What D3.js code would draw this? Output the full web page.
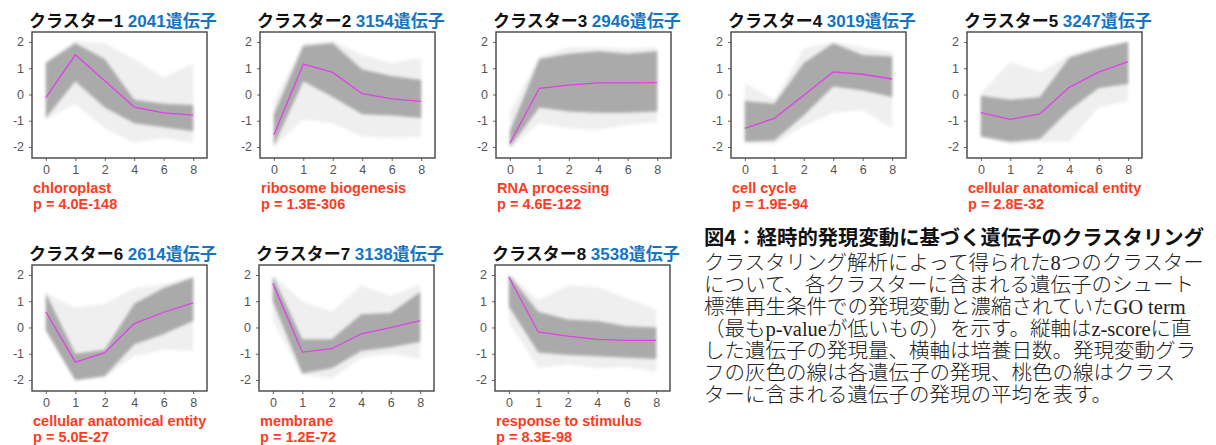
<!DOCTYPE html>
<html>
<head>
<meta charset="utf-8">
<script src="https://cdn.jsdelivr.net/npm/d3@7"></script>
<style>
  body { margin: 0; background: #fff; }
  svg { display: block; }
</style>
</head>
<body>
<script>
// culture days on x axis
var timePoints = ["0", "1", "2", "4", "6", "8"];
var yTicks = [-2, -1, 0, 1, 2];

var clusterNames = ["クラスター1", "クラスター2", "クラスター3", "クラスター4",
  "クラスター5", "クラスター6", "クラスター7", "クラスター8"];
var geneCounts = [2041, 3154, 2946, 3019, 3247, 2614, 3138, 3538];
var goTerms = ["chloroplast", "ribosome biogenesis", "RNA processing", "cell cycle",
  "cellular anatomical entity", "cellular anatomical entity", "membrane", "response to stimulus"];
var pValues = ["4.0E-148", "1.3E-306", "4.6E-122", "1.9E-94", "2.8E-32", "5.0E-27", "1.2E-72", "8.3E-98"];

// cluster mean (magenta line)
var meanExpr = [
  [-0.12, 1.51, 0.52, -0.48, -0.70, -0.79],
  [-1.53, 1.16, 0.84, 0.03, -0.17, -0.26],
  [-1.86, 0.23, 0.36, 0.44, 0.44, 0.45],
  [-1.29, -0.91, -0.03, 0.86, 0.77, 0.59],
  [-0.69, -0.95, -0.74, 0.27, 0.85, 1.25],
  [0.60, -1.32, -0.96, 0.15, 0.58, 0.94],
  [1.68, -0.94, -0.81, -0.24, -0.01, 0.26],
  [1.92, -0.17, -0.33, -0.45, -0.49, -0.49]
];

// dense part of the gene lines
var coreUpper = [
  [1.20, 1.95, 1.35, -0.20, -0.35, -0.40],
  [-0.75, 1.85, 1.95, 0.95, 0.70, 0.55],
  [-1.40, 1.35, 1.55, 1.65, 1.55, 1.65],
  [-0.25, -0.35, 1.20, 1.95, 1.50, 1.45],
  [-0.05, -0.20, -0.10, 1.40, 1.75, 2.00],
  [1.30, -1.00, -0.85, 0.90, 1.50, 1.90],
  [1.95, -0.45, -0.45, 0.50, 0.55, 1.35],
  [2.00, 0.60, 0.30, 0.25, 0.05, 0.00]
];
var coreLower = [
  [-0.90, 0.50, -0.50, -1.10, -1.25, -1.40],
  [-1.95, 0.50, -0.10, -0.75, -0.80, -0.90],
  [-2.00, -0.50, -0.65, -0.70, -0.70, -0.65],
  [-1.80, -1.75, -0.80, 0.30, 0.15, -0.10],
  [-1.60, -1.80, -1.70, -0.60, 0.25, 0.40],
  [-0.10, -2.00, -1.85, -0.65, -0.25, 0.25],
  [1.00, -1.75, -1.55, -0.90, -0.75, -0.55],
  [0.80, -0.95, -1.05, -1.10, -1.15, -1.20]
];
// faint outliers
var outerUpper = [
  [1.25, 2.05, 1.95, 1.35, 0.65, 1.20],
  [-0.30, 1.95, 2.05, 1.50, 1.20, 1.40],
  [-0.65, 1.45, 1.80, 1.80, 1.75, 1.80],
  [0.45, -0.20, 1.75, 2.00, 1.80, 1.60],
  [0.05, 1.25, 0.85, 1.50, 1.80, 2.05],
  [1.30, 0.75, 0.90, 1.50, 1.65, 1.95],
  [2.00, 1.00, 0.60, 1.60, 1.20, 1.65],
  [2.05, 1.05, 1.60, 1.55, 1.10, 0.70]
];
var outerLower = [
  [-0.95, -0.35, -1.30, -1.85, -1.65, -1.85],
  [-2.00, -0.95, -1.10, -1.60, -1.66, -1.60],
  [-2.05, -1.10, -1.30, -1.35, -1.15, -1.05],
  [-1.85, -1.90, -1.20, -0.70, -0.60, -1.30],
  [-1.60, -1.90, -1.80, -1.80, -0.50, -0.25],
  [-0.15, -2.05, -1.90, -1.10, -0.85, -0.90],
  [0.25, -1.80, -1.95, -1.15, -1.00, -1.20],
  [0.20, -1.55, -1.40, -1.55, -1.50, -1.70]
];

var captionTitle = "図4：経時的発現変動に基づく遺伝子のクラスタリング";
var captionLines = [
  "クラスタリング解析によって得られた8つのクラスター",
  "について、各クラスターに含まれる遺伝子のシュート",
  "標準再生条件での発現変動と濃縮されていたGO term",
  "（最もp-valueが低いもの）を示す。縦軸はz-scoreに直",
  "した遺伝子の発現量、横軸は培養日数。発現変動グラ",
  "フの灰色の線は各遺伝子の発現、桃色の線はクラス",
  "ターに含まれる遺伝子の発現の平均を表す。"
];

var svgWidth = 1216;
var svgHeight = 445;
var frameW = 175;
var frameH = 126;
var frameX = [32, 260, 496, 731, 967, 32, 259, 495];
var frameY = [32, 32, 32, 32, 32, 265, 265, 265];

var svg = d3.select("body")
  .append("svg")
  .attr("width", svgWidth)
  .attr("height", svgHeight);

var defs = svg.append("defs");
defs.append("filter")
  .attr("id", "soft")
  .attr("x", "-20%").attr("y", "-20%")
  .attr("width", "140%").attr("height", "140%")
  .append("feGaussianBlur")
  .attr("stdDeviation", 1.6);

var xScale = d3.scalePoint()
  .domain(timePoints)
  .range([0, frameW])
  .padding(0.47);

var yScale = d3.scaleLinear()
  .domain([-2.42, 2.38])
  .range([frameH, 0]);

var sansFont = "'Liberation Sans', Arial, 'Noto Sans CJK JP', sans-serif";

clusterNames.forEach(function(name, i) {
  var g = svg.append("g")
    .attr("transform", `translate(${frameX[i]}, ${frameY[i]})`);

  defs.append("clipPath")
    .attr("id", "clip" + i)
    .append("rect")
    .attr("width", frameW)
    .attr("height", frameH);

  var plot = g.append("g").attr("clip-path", `url(#clip${i})`);

  var band = function(up, lo) {
    return d3.area()
      .x(function(d, k) { return xScale(timePoints[k]); })
      .y0(function(d, k) { return yScale(lo[k]); })
      .y1(function(d, k) { return yScale(up[k]); })(timePoints);
  };

  plot.append("path")
    .attr("d", band(outerUpper[i], outerLower[i]))
    .attr("fill", "#efefef")
    .attr("filter", "url(#soft)");

  plot.append("path")
    .attr("d", band(coreUpper[i], coreLower[i]))
    .attr("fill", "#aaaaaa")
    .attr("filter", "url(#soft)");

  plot.append("path")
    .datum(meanExpr[i])
    .attr("d", d3.line()
      .x(function(d, k) { return xScale(timePoints[k]); })
      .y(function(d) { return yScale(d); }))
    .attr("fill", "none")
    .attr("stroke", "#e040e8")
    .attr("stroke-width", 1.3);

  var leftAxis = d3.axisLeft(yScale)
    .tickValues(yTicks)
    .tickSize(3)
    .tickPadding(5)
    .tickFormat(function(d) { return String(d); });
  var bottomAxis = d3.axisBottom(xScale)
    .tickSize(3)
    .tickPadding(4);

  var ya = g.append("g").call(leftAxis);
  var xa = g.append("g")
    .attr("transform", `translate(0, ${frameH})`)
    .call(bottomAxis);
  [ya, xa].forEach(function(a) {
    a.select(".domain").remove();
    a.selectAll("line").attr("stroke", "#666");
    a.selectAll("text")
      .attr("fill", "#555")
      .style("font-family", sansFont)
      .style("font-size", "12.5px");
  });

  g.append("rect")
    .attr("width", frameW)
    .attr("height", frameH)
    .attr("fill", "none")
    .attr("stroke", "#444")
    .attr("stroke-width", 1.4);

  var title = g.append("text")
    .attr("x", -3)
    .attr("y", -5)
    .style("font-family", sansFont)
    .style("font-size", "17px")
    .style("font-weight", "bold");
  title.append("tspan").attr("fill", "#111").text(name + " ");
  title.append("tspan").attr("fill", "#1474c4").text(geneCounts[i] + "遺伝子");

  g.append("text")
    .attr("x", 1)
    .attr("y", frameH + 35)
    .attr("fill", "#ff3b1e")
    .style("font-family", sansFont)
    .style("font-size", "14.5px")
    .style("font-weight", "bold")
    .text(goTerms[i]);
  g.append("text")
    .attr("x", 1)
    .attr("y", frameH + 51)
    .attr("fill", "#ff3b1e")
    .style("font-family", sansFont)
    .style("font-size", "14.5px")
    .style("font-weight", "bold")
    .text("p = " + pValues[i]);
});

// caption
svg.append("text")
  .attr("x", 704)
  .attr("y", 245)
  .attr("fill", "#111")
  .attr("textLength", 500)
  .attr("lengthAdjust", "spacingAndGlyphs")
  .style("font-family", "'Noto Sans CJK JP', sans-serif")
  .style("font-size", "20.5px")
  .style("font-weight", "bold")
  .text(captionTitle);

svg.selectAll(".caption")
  .data(captionLines)
  .enter()
  .append("text")
  .attr("class", "caption")
  .attr("x", 704)
  .attr("y", function(d, k) { return 270 + k * 22; })
  .attr("fill", "#222")
  .style("font-family", "'Liberation Serif', 'Noto Sans CJK JP', serif")
  .style("font-size", "20.5px")
  .style("font-weight", "300")
  .text(function(d) { return d; });
</script>
</body>
</html>
